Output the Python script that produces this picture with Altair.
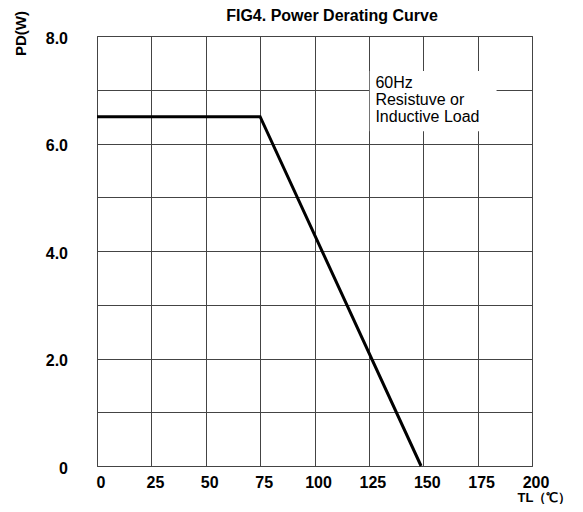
import altair as alt
import pandas as pd

# Derating curve
temp_c = [0, 75, 149]
power_w = [6.5, 6.5, 0]

# Axis ticks / grid
x_ticks = [0, 25, 50, 75, 100, 125, 150, 175, 200]
y_grid = [0, 1, 2, 3, 4, 5, 6, 7, 8]

# Texts
chart_title = ["FIG4. Power Derating Curve"]
note_lines = ["60Hz", "Resistuve or", "Inductive Load"]
note_x = [128]
note_y = [7.28]
box_x = [125.4]
box_x2 = [183.7]
box_y = [6.23]
box_y2 = [7.35]

FONT = "Liberation Sans"
GRID = "#444444"

line_df = pd.DataFrame({"x": temp_c, "y": power_w})
note_df = pd.DataFrame({"x": note_x, "y": note_y, "label": ["\n".join(note_lines)]})
box_df = pd.DataFrame({"x": box_x, "x2": box_x2, "y": box_y, "y2": box_y2})
title_df = pd.DataFrame({"t": chart_title})

x_axis = alt.Axis(
    values=x_ticks, grid=True, gridColor=GRID, gridWidth=1, gridOpacity=1,
    ticks=False, domain=False,
    labelFont=FONT, labelFontWeight="bold", labelFontSize=16, labelColor="black",
    labelPadding=8, labelOffset=3.5, labelFlush=False, labelOverlap=False,
    title="TL（℃）", titleX=447, titleY=31, titleAlign="center", titleBaseline="middle",
    titleFont=FONT, titleFontSize=13, titleFontWeight="bold", titleColor="black",
)
y_axis = alt.Axis(
    values=y_grid, grid=True, gridColor=GRID, gridWidth=1, gridOpacity=1,
    ticks=False, domain=False,
    labelExpr="datum.value == 0 ? '0' : (datum.value % 2 == 0 ? format(datum.value, '.1f') : '')",
    labelFont=FONT, labelFontWeight="bold", labelFontSize=16, labelColor="black",
    labelPadding=29.5, labelOffset=2, labelFlush=False, labelOverlap=False,
    title="PD(W)", titleX=-77, titleY=-3, titleAngle=270, titleAlign="center",
    titleBaseline="middle", titleFont=FONT, titleFontSize=15, titleFontWeight="bold",
    titleColor="black",
)

x_scale = alt.Scale(domain=[0, 200], nice=False, zero=False)
y_scale = alt.Scale(domain=[0, 8], nice=False, zero=False)

box_layer = alt.Chart(box_df).mark_rect(fill="white", stroke=None).encode(
    x=alt.X("x:Q", scale=x_scale, axis=x_axis),
    x2="x2:Q",
    y=alt.Y("y:Q", scale=y_scale, axis=y_axis),
    y2="y2:Q",
)

note_layer = alt.Chart(note_df).mark_text(
    align="left", baseline="top", font=FONT, fontSize=16, lineHeight=17,
    lineBreak="\n", color="black",
).encode(
    x=alt.X("x:Q", scale=x_scale, axis=x_axis),
    y=alt.Y("y:Q", scale=y_scale, axis=y_axis),
    text="label:N",
)

line_layer = alt.Chart(line_df).mark_line(color="black", strokeWidth=3).encode(
    x=alt.X("x:Q", scale=x_scale, axis=x_axis),
    y=alt.Y("y:Q", scale=y_scale, axis=y_axis),
)

title_layer = alt.Chart(title_df).mark_text(
    align="center", baseline="alphabetic", font=FONT, fontSize=16,
    fontWeight="bold", color="black",
).encode(
    x=alt.value(235),
    y=alt.value(-15),
    text="t:N",
)

chart = alt.layer(box_layer, note_layer, line_layer, title_layer).properties(
    width=435,
    height=430,
    padding={"left": 89, "top": 28, "right": 43, "bottom": 38},
    autosize=alt.AutoSizeParams(type="none"),
).configure_view(stroke=GRID, strokeWidth=1)

chart.save("out.html", embed_options={"renderer": "svg", "actions": False})
